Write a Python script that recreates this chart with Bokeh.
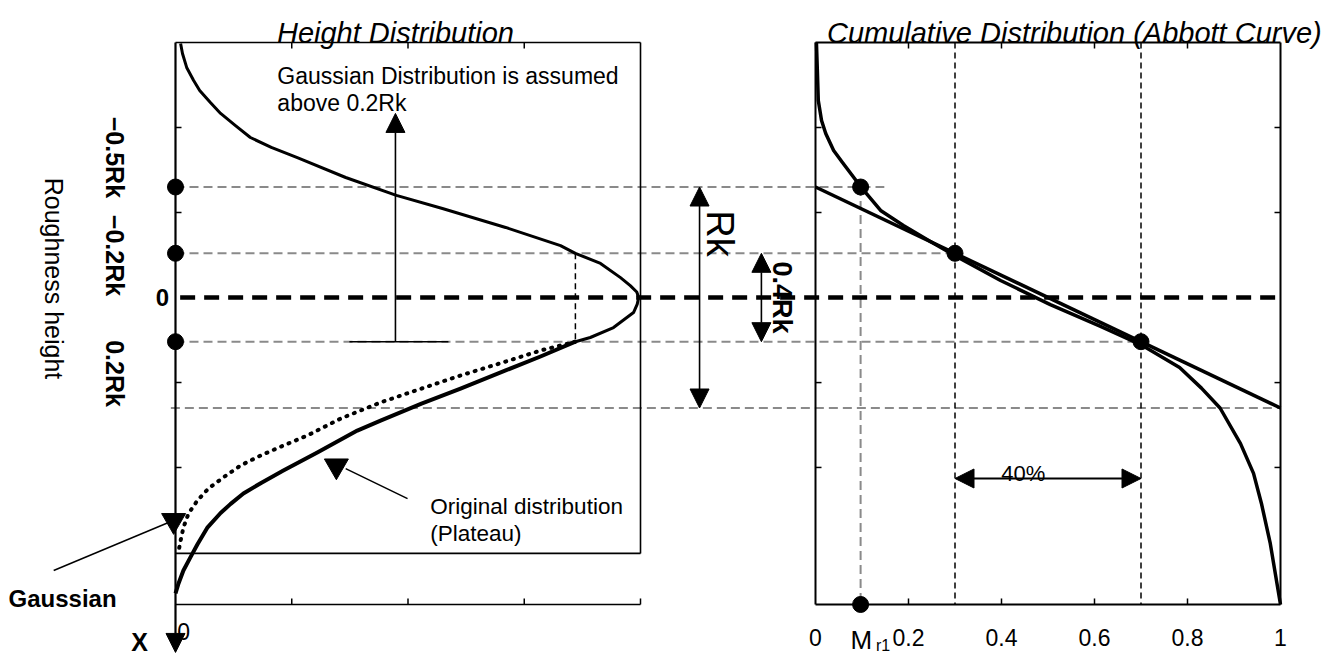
import numpy as np
from bokeh.plotting import figure
from bokeh.models import Range1d, Arrow, NormalHead
from bokeh.core.properties import value
from bokeh.embed import file_html
from bokeh.resources import INLINE

# ---------------- data ----------------
# Heights are in Rk units (positive = deeper, drawn downward)
RK_LEVELS = [-0.5, -0.2, 0.2]          # dots on the height axis
LEVEL_LABELS = ["\u22120.5Rk", "\u22120.2Rk", "0.2Rk"]
LABEL_CENTERS_H = [-0.634, -0.19, 0.344]

# Height distribution (density, 0..1 of peak) - upper common part
UPPER_D = [0.011, 0.015, 0.024, 0.039, 0.052, 0.075, 0.097, 0.129, 0.161, 0.206,
           0.262, 0.366, 0.475, 0.574, 0.710, 0.828, 0.860, 0.914, 0.957, 0.978,
           0.992, 0.996, 0.993, 0.985, 0.942, 0.892, 0.860]
UPPER_H = [-1.149, -1.104, -1.041, -0.982, -0.937, -0.882, -0.833, -0.778, -0.724, -0.679,
           -0.633, -0.543, -0.462, -0.403, -0.317, -0.235, -0.200, -0.154, -0.090, -0.054,
           -0.025, 0.000, 0.030, 0.068, 0.136, 0.181, 0.200]
# Original (plateau) distribution below 0.2Rk
PLATEAU_D = [0.860, 0.785, 0.710, 0.613, 0.529, 0.441, 0.391, 0.305, 0.232, 0.185,
             0.146, 0.118, 0.097, 0.069, 0.047, 0.032, 0.017, 0.0065, 0.0]
PLATEAU_H = [0.200, 0.267, 0.330, 0.412, 0.480, 0.557, 0.602, 0.701, 0.783, 0.838,
             0.887, 0.935, 0.975, 1.040, 1.118, 1.176, 1.235, 1.294, 1.339]
# Gaussian continuation (dotted)
GAUSS_D = [0.860, 0.785, 0.710, 0.613, 0.529, 0.441, 0.355, 0.284, 0.232, 0.183,
           0.140, 0.103, 0.071, 0.047, 0.028, 0.017, 0.011, 0.006]
GAUSS_H = [0.200, 0.240, 0.290, 0.353, 0.412, 0.475, 0.548, 0.624, 0.670, 0.715,
           0.760, 0.814, 0.864, 0.919, 0.977, 1.041, 1.100, 1.154]

# Abbott (material ratio) curve
ABBOTT_MR = [0.002, 0.004, 0.006, 0.013, 0.022, 0.039, 0.058, 0.097, 0.140, 0.189,
             0.247, 0.303, 0.398, 0.505, 0.613, 0.703, 0.783, 0.830, 0.870, 0.914,
             0.942, 0.959, 0.978, 1.0]
ABBOTT_H = [-1.154, -1.027, -0.891, -0.801, -0.742, -0.665, -0.611, -0.502, -0.394, -0.326,
            -0.253, -0.186, -0.077, 0.032, 0.131, 0.217, 0.317, 0.410, 0.500, 0.661,
            0.796, 0.932, 1.113, 1.389]
# Equivalent straight line through the 40 % window
LINE_MR = [0.0, 1.0]
LINE_H = [-0.5, 0.5]
MR_POINTS = [0.097, 0.3, 0.7]          # Mr1 and the 40 % window limits
MR1 = 0.097

MR_TICKS = [0.2, 0.4, 0.6, 0.8]
MR_LABEL_VALUES = [0, 0.2, 0.4, 0.6, 0.8, 1.0]
MR_LABELS = ["0", "0.2", "0.4", "0.6", "0.8", "1"]
D_TICKS_BOTTOM = [0.25, 0.5, 0.75, 1.0]
D_TICKS_TOP = [0.25, 0.5, 0.75]
H_TICKS = [-0.769, -0.385, 0.385, 0.769]

# ---------------- layout constants ----------------
PX_X = 465.0     # px per unit (both panels)
PX_Y = 221.0     # px per Rk
RIGHT = 640 / PX_X   # offset of the right panel's origin in the shared x scale
BOX_TOP = -1.154
LEFT_BOX_BOTTOM = 1.158
AXIS_BOTTOM = 1.389
TX = 6 / PX_X
TY = 6 / PX_Y

FONT = value("Liberation Sans")


def rx(vals):
    return [v + RIGHT for v in np.atleast_1d(vals)]


p = figure(width=1339, height=657,
           x_range=Range1d(-175 / PX_X, 1164 / PX_X),
           y_range=Range1d(360 / PX_Y, -297 / PX_Y),
           output_backend="svg", toolbar_location=None, min_border=0,
           x_axis_location=None, y_axis_location=None,
           outline_line_color=None, background_fill_color="white",
           border_fill_color="white")
p.grid.visible = False

GRAY = "#8a8a8a"

# ---- gray dashed horizontal reference lines ----
p.segment(x0=[0, 0, 0, -0.01], y0=[-0.5, -0.2, 0.2, 0.5],
          x1=rx([0.148, 0.3, 0.7, 1.0]), y1=[-0.5, -0.2, 0.2, 0.5],
          line_color=GRAY, line_width=2, line_dash="9 5")
# vertical gray dashed at Mr1
p.segment(x0=rx(MR1), y0=[-0.5], x1=rx(MR1), y1=[AXIS_BOTTOM],
          line_color=GRAY, line_width=2, line_dash="9 5")
# thick dashed zero line
p.segment(x0=[0.01], y0=[0], x1=rx(1.0), y1=[0],
          line_color="black", line_width=4.5, line_dash="15 9")
# black dashed verticals of the 40% window
p.segment(x0=rx([0.3, 0.7]), y0=[BOX_TOP, BOX_TOP], x1=rx([0.3, 0.7]),
          y1=[AXIS_BOTTOM, AXIS_BOTTOM], line_color="black", line_width=1.5, line_dash="6 4")
# short dashed vertical in the density panel
p.segment(x0=[0.86], y0=[-0.2], x1=[0.86], y1=[0.2],
          line_color="black", line_width=1.5, line_dash="6 4")

# ---- left panel frame ----
p.segment(x0=[0, 0, 1.0, 0], y0=[BOX_TOP, LEFT_BOX_BOTTOM, BOX_TOP, AXIS_BOTTOM],
          x1=[1.0, 1.0, 1.0, 1.0], y1=[BOX_TOP, LEFT_BOX_BOTTOM, LEFT_BOX_BOTTOM, AXIS_BOTTOM],
          line_color="black", line_width=1.6)
p.add_layout(Arrow(x_start=0, y_start=BOX_TOP, x_end=0, y_end=1.606,
                   line_width=2.2, line_color="black",
                   end=NormalHead(size=19, fill_color="black", line_color="black")))
# ticks
p.segment(x0=D_TICKS_BOTTOM, y0=[AXIS_BOTTOM] * 4, x1=D_TICKS_BOTTOM,
          y1=[AXIS_BOTTOM - TY] * 4, line_color="black", line_width=1.5)
p.segment(x0=D_TICKS_TOP, y0=[BOX_TOP] * 3, x1=D_TICKS_TOP,
          y1=[BOX_TOP + TY] * 3, line_color="black", line_width=1.5)
p.segment(x0=[0] * 4, y0=H_TICKS, x1=[TX] * 4, y1=H_TICKS, line_color="black", line_width=1.5)

# ---- right panel frame ----
p.segment(x0=rx([0, 0, 1, 0]), y0=[BOX_TOP, BOX_TOP, BOX_TOP, AXIS_BOTTOM],
          x1=rx([1, 0, 1, 1]), y1=[BOX_TOP, AXIS_BOTTOM, AXIS_BOTTOM, AXIS_BOTTOM],
          line_color="black", line_width=2)
p.segment(x0=rx(MR_TICKS), y0=[BOX_TOP] * 4, x1=rx(MR_TICKS), y1=[BOX_TOP + TY] * 4,
          line_color="black", line_width=1.5)
p.segment(x0=rx(MR_TICKS), y0=[AXIS_BOTTOM] * 4, x1=rx(MR_TICKS), y1=[AXIS_BOTTOM - TY] * 4,
          line_color="black", line_width=1.5)
p.segment(x0=rx([0] * 4), y0=H_TICKS, x1=rx([TX] * 4), y1=H_TICKS, line_color="black", line_width=1.5)
p.segment(x0=rx([1] * 4), y0=H_TICKS, x1=rx([1 - TX] * 4), y1=H_TICKS, line_color="black", line_width=1.5)

# ---- curves ----
p.line(GAUSS_D, GAUSS_H, line_color="black", line_width=4, line_dash="1 7", line_cap="round")
p.line(UPPER_D, UPPER_H, line_color="black", line_width=3, line_join="round")
p.line(PLATEAU_D, PLATEAU_H, line_color="black", line_width=4, line_join="round")
p.line(rx(ABBOTT_MR), ABBOTT_H, line_color="black", line_width=3.5, line_join="round")
p.line(rx(LINE_MR), LINE_H, line_color="black", line_width=3.5)

# ---- dots ----
p.scatter([0] * 3, RK_LEVELS, size=16, color="black")
p.scatter(rx(MR_POINTS), RK_LEVELS, size=16, color="black")
p.scatter(rx(MR1), [AXIS_BOTTOM], size=16, color="black")

# ---- arrows ----
def head(s):
    return NormalHead(size=s, fill_color="black", line_color="black")

# Gaussian assumed arrow
p.add_layout(Arrow(x_start=0.473, y_start=0.2, x_end=0.473, y_end=-0.833,
                   line_width=1.6, end=head(19)))
p.segment(x0=[0.374], y0=[0.2], x1=[0.587], y1=[0.2], line_color="black", line_width=1.6)
# Rk
p.add_layout(Arrow(x_start=1.127, y_start=-0.5, x_end=1.127, y_end=0.5,
                   line_width=1.6, start=head(19), end=head(19)))
# 0.4Rk
p.add_layout(Arrow(x_start=1.260, y_start=-0.2, x_end=1.260, y_end=0.2,
                   line_width=1.6, start=head(19), end=head(19)))
# 40 %
p.add_layout(Arrow(x_start=rx(0.3)[0], y_start=0.819, x_end=rx(0.7)[0], y_end=0.819,
                   line_width=1.8, start=head(19), end=head(19)))
# pointer lines with triangle heads
p.segment(x0=[0.499, -0.262], y0=[0.910, 1.235], x1=[0.366, -0.015], y1=[0.774, 1.018],
          line_color="black", line_width=1.5)
p.scatter([0.346, -0.004], [0.762, 1.009], marker="inverted_triangle", size=24, color="black")

# ---- texts ----
p.text(x=[0.473, 1.933], y=[-1.195, -1.195],
       text=["Height Distribution", "Cumulative Distribution (Abbott Curve)"],
       text_font=FONT, text_font_size="29px", text_font_style="italic",
       text_align="center", text_baseline="alphabetic")
p.text(x=[0.219, 0.219], y=[-1.0045, -0.882],
       text=["Gaussian Distribution is assumed", "above 0.2Rk"],
       text_font=FONT, text_font_size="23px", text_align="left", text_baseline="alphabetic")
p.text(x=[0.548, 0.548], y=[0.946, 1.068],
       text=["Original distribution", "(Plateau)"],
       text_font=FONT, text_font_size="22.5px", text_align="left", text_baseline="alphabetic")
p.text(x=[-0.359], y=[1.362], text=["Gaussian"], text_font=FONT, text_font_size="24px",
       text_font_style="bold", text_align="left", text_baseline="alphabetic")
p.text(x=[-0.131] * 3, y=LABEL_CENTERS_H, text=LEVEL_LABELS, text_font=FONT,
       text_font_size="25px", text_font_style="bold", angle=-np.pi / 2,
       text_align="center", text_baseline="middle")
p.text(x=[-0.028], y=[0.0], text=["0"], text_font=FONT, text_font_size="24px",
       text_font_style="bold", text_align="center", text_baseline="middle")
p.text(x=[-0.262], y=[-0.086], text=["Roughness height"], text_font=FONT,
       text_font_size="25px", angle=-np.pi / 2, text_align="center", text_baseline="middle")
p.text(x=[-0.077], y=[1.557], text=["X"], text_font=FONT, text_font_size="25px",
       text_font_style="bold", text_align="center", text_baseline="middle")
p.text(x=[0.004], y=[1.511], text=["0"], text_font=FONT, text_font_size="23px",
       text_align="left", text_baseline="alphabetic")
p.text(x=[1.172], y=[-0.290], text=["Rk"], text_font=FONT, text_font_size="38px",
       angle=-np.pi / 2, text_align="center", text_baseline="middle")
p.text(x=[1.305], y=[0.0], text=["0.4Rk"], text_font=FONT, text_font_size="27px",
       text_font_style="bold", angle=-np.pi / 2, text_align="center", text_baseline="middle")
p.text(x=rx(MR_LABEL_VALUES), y=[1.538] * 6, text=MR_LABELS, text_font=FONT,
       text_font_size="23px", text_align="center", text_baseline="alphabetic")
p.text(x=rx(0.447), y=[0.796], text=["40%"], text_font=FONT, text_font_size="22px",
       text_align="center", text_baseline="alphabetic")
p.text(x=rx(0.075), y=[1.548], text=["M"], text_font=FONT, text_font_size="26px",
       text_align="left", text_baseline="alphabetic")
p.text(x=rx(0.130), y=[1.575], text=["r1"], text_font=FONT, text_font_size="16px",
       text_align="left", text_baseline="alphabetic")

open("out.html", "w").write(file_html(p, INLINE))
